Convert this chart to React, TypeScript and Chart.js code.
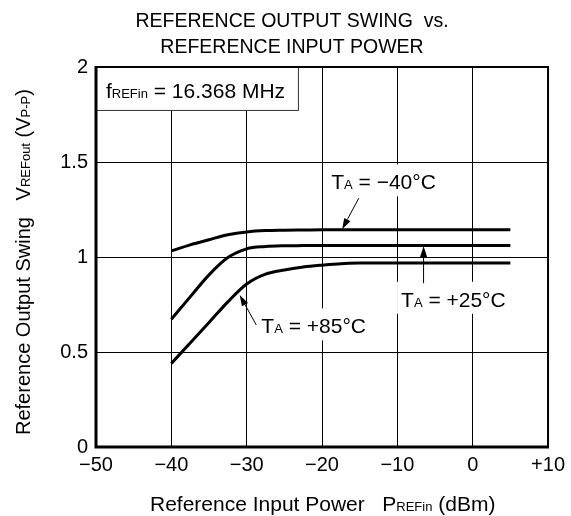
import React, { useEffect, useRef } from "react";
import { Chart, registerables } from "chart.js";

Chart.register(...registerables);

const FONT = '"Liberation Sans", Arial, Helvetica, sans-serif';

// Reference input power (dBm)
const powerDbm = [-40, -37.5, -35, -32.5, -30, -27.5, -25, -22.5, -20, -17.5, -15, -10, -5, 0, 5];
// Reference output swing (Vp-p) per temperature
const swingMinus40C = [1.032, 1.064, 1.091, 1.117, 1.132, 1.139, 1.141, 1.142, 1.143, 1.143, 1.143, 1.143, 1.143, 1.143, 1.143];
const swingPlus25C = [0.672, 0.79, 0.906, 0.997, 1.043, 1.055, 1.059, 1.06, 1.061, 1.061, 1.061, 1.061, 1.061, 1.061, 1.061];
const swingPlus85C = [0.44, 0.547, 0.655, 0.764, 0.858, 0.91, 0.932, 0.947, 0.957, 0.965, 0.968, 0.969, 0.969, 0.969, 0.969];

const xTickLabels = ["\u221250", "\u221240", "\u221230", "\u221220", "\u221210", "0", "+10"];
const yTickLabels = ["0", "0.5", "1", "1.5", "2"];

const titleLines = ["REFERENCE OUTPUT SWING  vs.", "REFERENCE INPUT POWER"];

type Part = { t: string; sub?: boolean };

const freqLabel: Part[] = [{ t: "f" }, { t: "REFin", sub: true }, { t: " = 16.368 MHz" }];
const labelMinus40: Part[] = [{ t: "T" }, { t: "A", sub: true }, { t: " = \u221240\u00B0C" }];
const labelPlus25: Part[] = [{ t: "T" }, { t: "A", sub: true }, { t: " = +25\u00B0C" }];
const labelPlus85: Part[] = [{ t: "T" }, { t: "A", sub: true }, { t: " = +85\u00B0C" }];
const xTitle: Part[] = [{ t: "Reference Input Power   P" }, { t: "REFin", sub: true }, { t: " (dBm)" }];
const yTitle: Part[] = [
  { t: "Reference Output Swing   V" },
  { t: "REFout", sub: true },
  { t: " (V" },
  { t: "P-P", sub: true },
  { t: ")" },
];

function richWidth(ctx: CanvasRenderingContext2D, parts: Part[], size: number, sub: number) {
  let w = 0;
  for (const p of parts) {
    ctx.font = `${p.sub ? sub : size}px ${FONT}`;
    w += ctx.measureText(p.t).width;
  }
  return w;
}

function drawRich(ctx: CanvasRenderingContext2D, parts: Part[], x: number, y: number, size: number, sub: number) {
  ctx.textAlign = "left";
  ctx.textBaseline = "alphabetic";
  let cx = x;
  for (const p of parts) {
    ctx.font = `${p.sub ? sub : size}px ${FONT}`;
    ctx.fillText(p.t, cx, y);
    cx += ctx.measureText(p.t).width;
  }
  return cx - x;
}

function arrow(ctx: CanvasRenderingContext2D, x1: number, y1: number, x2: number, y2: number) {
  const ang = Math.atan2(y2 - y1, x2 - x1);
  const len = 11;
  const hw = 3.5;
  const bx = x2 - len * Math.cos(ang);
  const by = y2 - len * Math.sin(ang);
  ctx.strokeStyle = "#000";
  ctx.lineWidth = 1;
  ctx.beginPath();
  ctx.moveTo(x1, y1);
  ctx.lineTo(bx, by);
  ctx.stroke();
  ctx.fillStyle = "#000";
  ctx.beginPath();
  ctx.moveTo(x2, y2);
  ctx.lineTo(bx + hw * Math.sin(ang), by - hw * Math.cos(ang));
  ctx.lineTo(bx - hw * Math.sin(ang), by + hw * Math.cos(ang));
  ctx.closePath();
  ctx.fill();
}

const decorPlugin = {
  id: "decor",
  afterDatasetsDraw(chart: any) {
    const ctx: CanvasRenderingContext2D = chart.ctx;
    const xs = chart.scales.x;
    const ys = chart.scales.y;
    const px = (v: number) => xs.getPixelForValue(v);
    const py = (v: number) => ys.getPixelForValue(v);
    const { left, right, top, bottom } = chart.chartArea;
    ctx.save();

    // frequency box
    const bx1 = px(-50), by1 = py(2), bx2 = px(-23.2), by2 = py(1.774);
    ctx.fillStyle = "#fff";
    ctx.fillRect(bx1, by1, bx2 - bx1, by2 - by1);
    ctx.strokeStyle = "#333";
    ctx.lineWidth = 1;
    ctx.strokeRect(bx1 + 0.5, by1 + 0.5, bx2 - bx1, by2 - by1);
    ctx.fillStyle = "#000";
    drawRich(ctx, freqLabel, px(-48.68), py(1.839), 21, 13);

    // temperature labels with white background
    const labels: [Part[], number, number][] = [
      [labelMinus40, -18.78, 1.356],
      [labelPlus25, -9.51, 0.738],
      [labelPlus85, -28.05, 0.598],
    ];
    for (const [parts, lx, ly] of labels) {
      const x = px(lx);
      const y = py(ly);
      const w = richWidth(ctx, parts, 21, 13);
      ctx.fillStyle = "#fff";
      ctx.fillRect(x - 4, y - 25, w + 8, 32);
      ctx.fillStyle = "#000";
      drawRich(ctx, parts, x, y, 21, 13);
    }

    arrow(ctx, px(-15.13), py(1.309), px(-17.33), py(1.146));
    arrow(ctx, px(-6.52), py(0.862), px(-6.52), py(1.058));
    arrow(ctx, px(-28.72), py(0.642), px(-30.93), py(0.8));

    // frame
    ctx.strokeStyle = "#000";
    ctx.lineWidth = 2;
    ctx.beginPath();
    ctx.moveTo(left, top);
    ctx.lineTo(right, top);
    ctx.lineTo(right, bottom);
    ctx.stroke();
    ctx.lineWidth = 3;
    ctx.beginPath();
    ctx.moveTo(left, top - 1);
    ctx.lineTo(left, bottom);
    ctx.lineTo(right + 1, bottom);
    ctx.stroke();

    // title
    ctx.fillStyle = "#000";
    ctx.font = `19.5px ${FONT}`;
    ctx.textAlign = "center";
    ctx.textBaseline = "alphabetic";
    ctx.fillText(titleLines[0], 292, 27);
    ctx.fillText(titleLines[1], 292, 52.5);

    // axis titles
    drawRich(ctx, xTitle, 150, 511, 21, 13);
    ctx.save();
    ctx.translate(30, 435);
    ctx.rotate(-Math.PI / 2);
    drawRich(ctx, yTitle, 0, 0, 20, 13);
    ctx.restore();

    ctx.restore();
  },
};

export default function App() {
  const canvasRef = useRef<HTMLCanvasElement | null>(null);

  useEffect(() => {
    const canvas = canvasRef.current;
    if (!canvas) return;
    const mk = (data: number[]) => ({
      data: powerDbm.map((x, i) => ({ x, y: data[i] })),
      borderColor: "#000",
      borderWidth: 3,
      pointRadius: 0,
      fill: false,
      cubicInterpolationMode: "monotone" as const,
    });
    const chart = new Chart(canvas, {
      type: "line",
      data: {
        datasets: [
          { label: "TA = -40°C", ...mk(swingMinus40C) },
          { label: "TA = +25°C", ...mk(swingPlus25C) },
          { label: "TA = +85°C", ...mk(swingPlus85C) },
        ],
      },
      options: {
        responsive: false,
        animation: false,
        devicePixelRatio: 1,
        layout: { padding: { left: 0, top: 67, right: 22, bottom: 0 } },
        plugins: { legend: { display: false }, tooltip: { enabled: false }, title: { display: false } },
        scales: {
          x: {
            type: "linear",
            min: -50,
            max: 10,
            afterFit: (s: any) => {
              s.height = 69;
            },
            ticks: {
              stepSize: 10,
              color: "#000",
              padding: 6,
              maxRotation: 0,
              autoSkip: false,
              font: { family: FONT, size: 20 },
              callback: (_v: any, i: number) => xTickLabels[i],
            },
            grid: { color: "#000", lineWidth: 1, drawTicks: false },
            border: { display: false },
          },
          y: {
            type: "linear",
            min: 0,
            max: 2,
            afterFit: (s: any) => {
              s.width = 96;
            },
            ticks: {
              stepSize: 0.5,
              color: "#000",
              padding: 8,
              font: { family: FONT, size: 20 },
              callback: (_v: any, i: number) => yTickLabels[i],
            },
            grid: { color: "#000", lineWidth: 1, drawTicks: false },
            border: { display: false },
          },
        },
      },
      plugins: [decorPlugin],
    });
    return () => chart.destroy();
  }, []);

  return (
    <div style={{ position: "fixed", left: 0, top: 0, width: 571, height: 516, background: "#fff" }}>
      <canvas ref={canvasRef} width={571} height={516} style={{ width: 571, height: 516, display: "block" }} />
    </div>
  );
}
